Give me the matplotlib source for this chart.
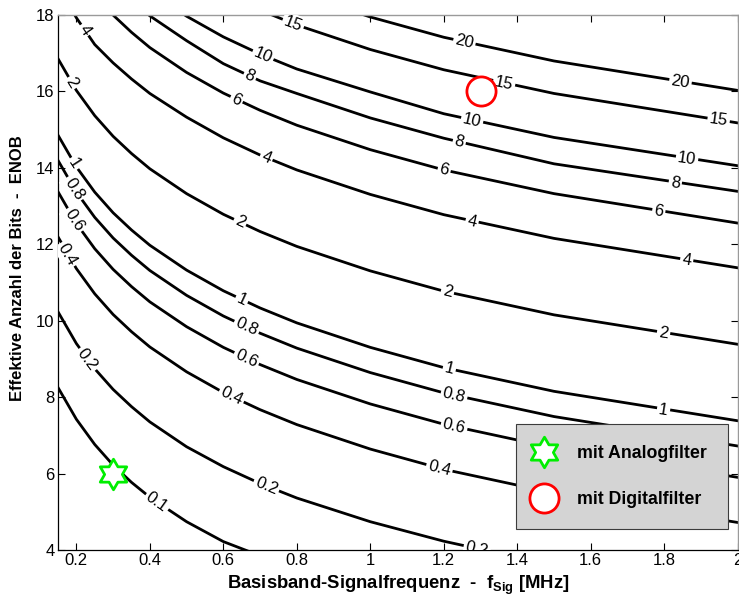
import numpy as np
import matplotlib
matplotlib.use("Agg")
import matplotlib.pyplot as plt
from matplotlib.path import Path
from matplotlib.ticker import FormatStrFormatter

plt.rcParams['font.family'] = ['Liberation Sans', 'DejaVu Sans']
plt.rcParams['mathtext.fontset'] = 'custom'
plt.rcParams['mathtext.rm'] = 'Liberation Sans'
plt.rcParams['mathtext.bf'] = 'Liberation Sans:bold'
plt.rcParams['mathtext.it'] = 'Liberation Sans:italic'

nan = np.nan

# ---- data ----
freq_mhz = [0.15, 0.2, 0.25, 0.3, 0.35, 0.4, 0.5, 0.6, 0.7, 0.8, 1.0, 1.2, 1.5, 2.0]
levels = [0.1, 0.2, 0.4, 0.6, 0.8, 1, 2, 4, 6, 8, 10, 15, 20]

enob_0_1 = [8.25, 7.42, 6.76, 6.22, 5.77, 5.38, 4.74, 4.22, 3.85, 3.45, nan, nan, nan, nan]
enob_0_2 = [10.23, 9.40, 8.74, 8.20, 7.75, 7.35, 6.70, 6.18, 5.74, 5.36, 4.74, 4.23, 3.60, nan]
enob_0_4 = [12.19, 11.36, 10.70, 10.16, 9.71, 9.31, 8.66, 8.12, 7.67, 7.28, 6.64, 6.11, 5.49, 4.72]
enob_0_6 = [13.37, 12.54, 11.88, 11.34, 10.89, 10.49, 9.84, 9.30, 8.85, 8.46, 7.82, 7.29, 6.67, 5.90]
enob_0_8 = [14.19, 13.36, 12.70, 12.16, 11.71, 11.31, 10.66, 10.12, 9.67, 9.28, 8.64, 8.11, 7.49, 6.72]
enob_1 = [14.85, 14.02, 13.36, 12.82, 12.37, 11.97, 11.32, 10.78, 10.33, 9.94, 9.30, 8.77, 8.15, 7.38]
enob_2 = [16.85, 16.02, 15.36, 14.82, 14.37, 13.97, 13.32, 12.78, 12.33, 11.94, 11.30, 10.77, 10.15, 9.38]
enob_4 = [18.75, 17.92, 17.22, 16.74, 16.32, 15.94, 15.32, 14.78, 14.33, 13.94, 13.30, 12.77, 12.15, 11.38]
enob_6 = [nan, nan, 18.53, 17.99, 17.54, 17.14, 16.49, 15.95, 15.50, 15.11, 14.47, 13.94, 13.32, 12.55]
enob_8 = [nan, nan, nan, 18.82, 18.37, 17.97, 17.32, 16.72, 16.27, 15.94, 15.30, 14.77, 14.10, 13.38]
enob_10 = [nan, nan, nan, nan, nan, 18.61, 17.96, 17.42, 16.97, 16.58, 15.98, 15.41, 14.79, 14.05]
enob_15 = [nan, nan, nan, nan, nan, nan, nan, 18.57, 18.12, 17.73, 17.09, 16.56, 15.94, 15.17]
enob_20 = [nan, nan, nan, nan, nan, nan, nan, nan, nan, 18.58, 17.94, 17.41, 16.79, 16.02]

enob_lines = [enob_0_1, enob_0_2, enob_0_4, enob_0_6, enob_0_8, enob_1, enob_2,
              enob_4, enob_6, enob_8, enob_10, enob_15, enob_20]

analog_f = [0.3]
analog_enob = [6.0]
digital_f = [1.3]
digital_enob = [16.0]

xticks = [0.2, 0.4, 0.6, 0.8, 1.0, 1.2, 1.4, 1.6, 1.8, 2.0]
yticks = [4, 6, 8, 10, 12, 14, 16, 18]

# contour label placement (frequency along each level line)
label_freqs = {
    0.1: [0.419],
    0.2: [0.230, 0.717, 1.29],
    0.4: [0.176, 0.622, 1.188],
    0.6: [0.194, 0.663, 1.228],
    0.8: [0.194, 0.663, 1.228],
    1: [0.194, 0.650, 1.215, 1.798],
    2: [0.187, 0.645, 1.210, 1.798],
    4: [0.222, 0.717, 1.277, 1.861],
    6: [0.636, 1.201, 1.785],
    8: [0.672, 1.242, 1.83],
    10: [0.708, 1.277, 1.862],
    15: [0.79, 1.364, 1.948],
    20: [1.256, 1.844],
}

# ---- figure ----
W, H = 739, 599
fig = plt.figure(figsize=(W / 100, H / 100), dpi=100)
x0, x1, ytop, ybot = 58, 737.7, 14.7, 550
ax = fig.add_axes([x0 / W, 1 - ybot / H, (x1 - x0) / W, (ybot - ytop) / H])
ax.set_xlim(0.15, 2.0)
ax.set_ylim(4, 18)

f = np.array(freq_mhz)
for lev, en in zip(levels, enob_lines):
    ax.plot(f, en, color='black', lw=2.0, solid_joinstyle='round', zorder=2)

for lev, en in zip(levels, enob_lines):
    en = np.array(en)
    ok = ~np.isnan(en)
    lf = np.log(f[ok])
    for fl in label_freqs[lev]:
        yv = np.interp(np.log(fl), lf, en[ok])
        ya = np.interp(np.log(fl * 0.97), lf, en[ok])
        yb = np.interp(np.log(fl * 1.03), lf, en[ok])
        pa = ax.transData.transform((fl * 0.97, ya))
        pb = ax.transData.transform((fl * 1.03, yb))
        ang = np.degrees(np.arctan2(pb[1] - pa[1], pb[0] - pa[0]))
        ax.text(fl, yv, '%g' % lev, rotation=ang, rotation_mode='anchor',
                ha='center', va='center', fontsize=12, color='black',
                bbox=dict(boxstyle='square,pad=0.12', fc='white', ec='none'),
                clip_on=True, zorder=3)

hexagram = Path.unit_regular_star(6, 0.58)
ax.plot(analog_f, analog_enob, linestyle='none', marker=hexagram, ms=22,
        mec='#00ee00', mfc='white', mew=2.0, label='mit Analogfilter', zorder=5)
ax.plot(digital_f, digital_enob, linestyle='none', marker='o', ms=21,
        mec='#ff0000', mfc='white', mew=2.0, label='mit Digitalfilter', zorder=5)

leg = ax.legend(loc='lower right', bbox_to_anchor=(0.985, 0.0387), borderaxespad=0,
                prop={'weight': 'bold', 'size': 12.75}, frameon=True, fancybox=False,
                framealpha=1, facecolor='#d4d4d4', edgecolor='#3c3c3c',
                borderpad=1.19, labelspacing=1.64, handlelength=0.75,
                handletextpad=1.49, numpoints=1)
leg.get_frame().set_linewidth(0.8)
leg.set_zorder(6)

ax.set_xticks(xticks)
ax.set_yticks(yticks)
ax.xaxis.set_major_formatter(FormatStrFormatter('%g'))
ax.yaxis.set_major_formatter(FormatStrFormatter('%g'))
ax.tick_params(direction='in', length=5, width=0.8, top=True, right=True,
               labelsize=12, pad=2.5, colors='black')
for t in ax.xaxis.get_major_ticks():
    t.tick2line.set_color('#8c8c8c')
for t in ax.yaxis.get_major_ticks():
    t.tick2line.set_color('#8c8c8c')
for s in ['left', 'bottom']:
    ax.spines[s].set_color('black')
    ax.spines[s].set_linewidth(0.9)
for s in ['top', 'right']:
    ax.spines[s].set_color('#9a9a9a')
    ax.spines[s].set_linewidth(1.0)

ax.set_xlabel(r'Basisband-Signalfrequenz  -  $\mathbf{f_{Sig}}$ [MHz]',
              fontsize=13.3, fontweight='bold', va='baseline')
ax.xaxis.set_label_coords(0.5, (ybot - 589) / (ybot - ytop))
ax.set_ylabel('Effektive Anzahl der Bits  -  ENOB', fontsize=12, fontweight='bold',
              va='center', ha='center')
ax.yaxis.set_label_coords((17.5 - x0) / (x1 - x0), (ybot - 268.5) / (ybot - ytop))

fig.savefig('out.png', dpi=100)
